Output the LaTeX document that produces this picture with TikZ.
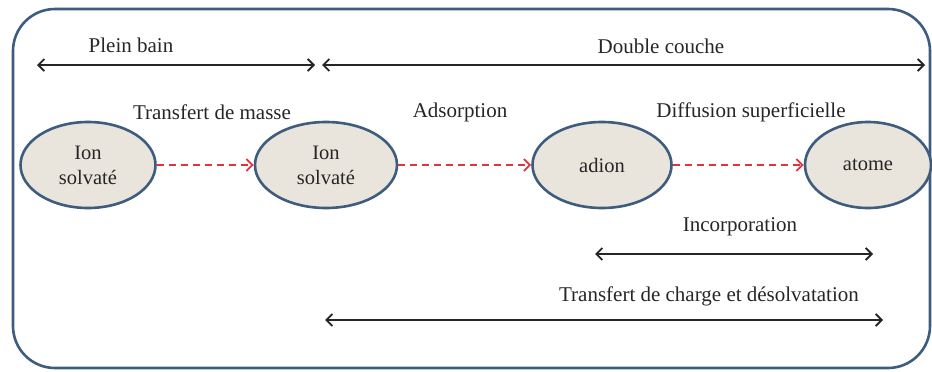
\documentclass[tikz,border=0pt]{standalone}
\usepackage{fontspec}
\setmainfont{Liberation Serif}
\usetikzlibrary{arrows.meta,shapes.geometric}
\definecolor{frameblue}{HTML}{3E5C7E}
\definecolor{ellfill}{HTML}{E9E5DC}
\definecolor{dashred}{HTML}{E2343F}
\definecolor{ink}{HTML}{262626}
\tikzset{
  ion/.style={ellipse, draw=frameblue, line width=2.6pt, fill=ellfill, minimum height=86pt, inner sep=0pt, align=center, text=ink, font=\fontsize{20.5}{25}\selectfont},
  lbl/.style={font=\fontsize{21}{24}\selectfont, inner sep=0pt, text=ink},
  span/.style={{Straight Barb[length=6pt,width=12pt,line width=1.8pt]}-{Straight Barb[length=6pt,width=12pt,line width=1.8pt]}, line width=1.6pt, ink},
  flow/.style={-{Straight Barb[length=6pt,width=12pt,line width=1.8pt]}, dash pattern=on 7pt off 5pt, line width=1.8pt, dashred}
}
\begin{document}
\begin{tikzpicture}[x=1pt,y=-1pt]
\useasboundingbox (0,0) rectangle (932,372);
\draw[frameblue, line width=2.6pt, rounded corners=42pt] (13,9) rectangle (930,368);
% top spans
\coordinate (pbL) at (37,65);
\coordinate (pbR) at (315,65);
\coordinate (dcL) at (322,65);
\coordinate (dcR) at (925,65);
\draw[span] (pbL) -- (pbR);
\draw[span] (dcL) -- (dcR);
\node[lbl] (plein) at (131,45) {Plein bain};
\node[lbl] (double) at (661,46) {Double couche};
% ellipses
\node[ion, minimum width=135pt] (e1) at (88,165) {Ion\\solvaté};
\node[ion, minimum width=142pt] (e2) at (326,165) {Ion\\solvaté};
\node[ion, minimum width=139pt] (e3) at (602,165) {adion};
\node[ion, minimum width=126pt] (e4) at (868,165) {atome};
\draw[flow] (e1) -- (e2);
\draw[flow] (e2) -- (e3);
\draw[flow] (e3) -- (e4);
\node[lbl] (tm) at (212,112) {Transfert de masse};
\node[lbl] (ads) at (460,112) {Adsorption};
\node[lbl] (diff) at (751,112) {Diffusion superficielle};
% bottom spans
\node[lbl] (inc) at (740,227) {Incorporation};
\coordinate (incL) at (595,254);
\coordinate (incR) at (873,254);
\draw[span] (incL) -- (incR);
\node[lbl] (tc) at (709,296) {Transfert de charge et désolvatation};
\coordinate (tcL) at (325,320);
\coordinate (tcR) at (883,320);
\draw[span] (tcL) -- (tcR);
\end{tikzpicture}
\end{document}
